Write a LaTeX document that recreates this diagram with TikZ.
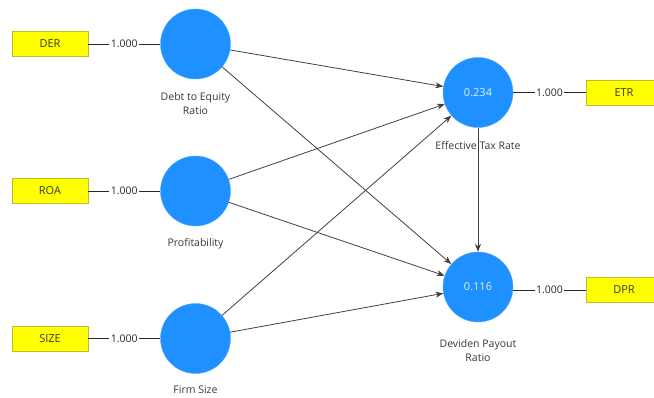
\documentclass[tikz,border=0pt]{standalone}
\usepackage{fontspec}
\setmainfont{Open Sans}
\usepackage{tikz}
\usepackage{xcolor}
\usetikzlibrary{positioning, arrows.meta}
\definecolor{lvblue}{RGB}{30,144,255}
\definecolor{lvedge}{RGB}{80,170,255}
\definecolor{indyellow}{RGB}{255,255,0}
\definecolor{indedge}{RGB}{190,190,40}
\definecolor{labelgray}{RGB}{55,55,55}

\begin{document}
\begin{tikzpicture}[x=1pt, y=-1pt]
            % Define styles
            \tikzstyle{latent} = [circle, minimum size=70pt, inner sep=0pt, fill=lvblue, draw=lvedge, text=white!85!lvblue, font=\fontsize{11}{13}\selectfont]
            \tikzstyle{indicator} = [rectangle, minimum width=76pt, minimum height=25pt, fill=indyellow, draw=indedge, text=labelgray, font=\fontsize{11}{13}\selectfont]
            \tikzstyle{caption} = [text=labelgray, align=center, font=\fontsize{10.5}{13.5}\selectfont]
            \tikzstyle{loading} = [fill=white, inner sep=1.5pt, text=black!85, font=\fontsize{10.5}{12}\selectfont]
            \tikzstyle{arrow} = [-{Stealth[length=8pt, width=6pt]}, black!75, thick]
            \tikzstyle{link} = [black!85, thick]

            \useasboundingbox (0,0) rectangle (654,398);

            % Exogenous constructs - left column
            \node (der) [indicator] at (50,44) {DER};
            \node (debt) [latent] at (195.5,44) {};
            \node (roa) [indicator] at (50,191) {ROA};
            \node (profit) [latent] at (195.5,191) {};
            \node (size) [indicator] at (50,338.5) {SIZE};
            \node (firm) [latent] at (195.5,338.5) {};

            % Endogenous constructs - right column
            \node (tax) [latent] at (478,92.5) {0.234};
            \node (etr) [indicator] at (624,92.5) {ETR};
            \node (payout) [latent] at (478,287) {0.116};
            \node (dpr) [indicator] at (624,290) {DPR};

            % Construct names
            \node (debtname) [caption, below=10pt of debt] {Debt to Equity\\Ratio};
            \node (profitname) [caption, below=9pt of profit] {Profitability};
            \node (firmname) [caption, below=9pt of firm] {Firm Size};
            \node (taxname) [caption, below=10pt of tax] {Effective Tax Rate};
            \node (payoutname) [caption, below=14pt of payout] {Deviden Payout\\Ratio};

            % Outer loadings
            \draw [link] (der) -- node [loading] {1.000} (debt);
            \draw [link] (roa) -- node [loading] {1.000} (profit);
            \draw [link] (size) -- node [loading] {1.000} (firm);
            \draw [link] (tax) -- node [loading] {1.000} (etr);
            \draw [link] (payout.east |- dpr) -- node [loading] {1.000} (dpr);

            % Structural paths
            \draw [arrow] (debt) -- (tax);
            \draw [arrow] (debt) -- (payout);
            \draw [arrow] (profit) -- (tax);
            \draw [arrow] (profit) -- (payout);
            \draw [arrow] (firm) -- (tax);
            \draw [arrow] (firm) -- (payout);
            \draw [arrow] (tax) -- (payout);
        \end{tikzpicture}
\end{document}
